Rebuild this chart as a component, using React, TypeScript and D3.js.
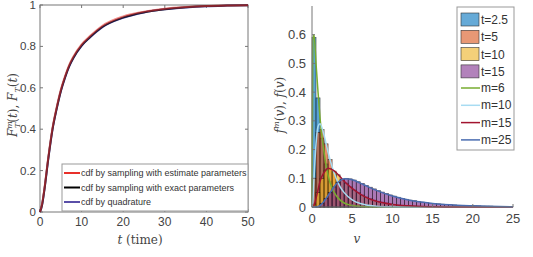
import React from "react";
import * as d3 from "d3";

// left panel: cdf of T
const cdfT = [0, 0.5, 1, 2, 3, 4, 5, 6, 7, 8, 10, 12, 15, 20, 25, 30, 35, 40, 45, 50];
const cdfEstimate = [0, 0.04, 0.105, 0.265, 0.405, 0.505, 0.59, 0.655, 0.71, 0.75, 0.81, 0.85, 0.9, 0.945, 0.968, 0.982, 0.99, 0.995, 0.998, 0.999];
const cdfExact = [0, 0.035, 0.1, 0.26, 0.4, 0.5, 0.585, 0.65, 0.705, 0.745, 0.805, 0.845, 0.895, 0.94, 0.965, 0.98, 0.989, 0.995, 0.998, 0.999];
const cdfQuad = [0, 0.033, 0.098, 0.257, 0.397, 0.497, 0.582, 0.648, 0.702, 0.743, 0.803, 0.843, 0.893, 0.938, 0.964, 0.979, 0.988, 0.994, 0.997, 0.999];
const cdfLegend = [
  "cdf by sampling with estimate parameters",
  "cdf by sampling with exact parameters",
  "cdf by quadrature",
];
const leftYTicks = [0, 0.2, 0.4, 0.6, 0.8, 1];
const leftXTicks = [0, 10, 20, 30, 40, 50];

// right panel: histograms (bin width 0.5 from v = 0) and densities
const binWidth = 0.5;
const histT25 = [0.59, 0.38, 0.24, 0.15, 0.09, 0.055, 0.034, 0.02, 0.012, 0.008, 0.005, 0.003, 0.002];
const histT5 = [0.1, 0.26, 0.27, 0.22, 0.165, 0.12, 0.085, 0.06, 0.042, 0.03, 0.021, 0.015, 0.01, 0.007, 0.005, 0.003, 0.002, 0.001];
const histT10 = [0.01, 0.05, 0.1, 0.128, 0.133, 0.125, 0.112, 0.097, 0.083, 0.07, 0.059, 0.05, 0.042, 0.035, 0.029, 0.024, 0.02, 0.017, 0.014, 0.011, 0.009, 0.007, 0.006, 0.005, 0.004, 0.003, 0.002, 0.002, 0.001, 0.001];
const histT15 = [0, 0.002, 0.012, 0.03, 0.05, 0.07, 0.085, 0.095, 0.1, 0.098, 0.094, 0.088, 0.082, 0.075, 0.069, 0.063, 0.057, 0.052, 0.047, 0.042, 0.038, 0.034, 0.03, 0.027, 0.024, 0.022, 0.019, 0.017, 0.015, 0.013, 0.012, 0.011, 0.01, 0.009, 0.008, 0.007, 0.006, 0.006, 0.005, 0.005, 0.004, 0.004, 0.003, 0.003, 0.003, 0.002, 0.002, 0.002, 0.002, 0.001];

const densV = [0, 0.1, 0.25, 0.5, 0.75, 1, 1.5, 2, 2.5, 3, 3.5, 4, 5, 6, 7, 8, 10, 12, 15, 18, 20, 25];
const densM6 = [0, 0.58, 0.6, 0.5, 0.4, 0.31, 0.19, 0.11, 0.065, 0.04, 0.024, 0.014, 0.005, 0.002, 0.001, 0, 0, 0, 0, 0, 0, 0];
const densM10 = [0, 0.02, 0.1, 0.22, 0.28, 0.29, 0.25, 0.19, 0.14, 0.1, 0.07, 0.05, 0.025, 0.012, 0.006, 0.003, 0.001, 0, 0, 0, 0, 0];
const densM15 = [0, 0, 0.005, 0.03, 0.06, 0.09, 0.12, 0.135, 0.13, 0.12, 0.105, 0.09, 0.065, 0.045, 0.03, 0.02, 0.009, 0.004, 0.001, 0, 0, 0];
const densM25 = [0, 0, 0, 0, 0.002, 0.005, 0.02, 0.04, 0.06, 0.08, 0.092, 0.098, 0.095, 0.083, 0.07, 0.058, 0.038, 0.024, 0.012, 0.006, 0.004, 0.001];

const histSeries = [
  { name: "t=2.5", values: histT25, color: "#0072bd" },
  { name: "t=5", values: histT5, color: "#d95319" },
  { name: "t=10", values: histT10, color: "#edb120" },
  { name: "t=15", values: histT15, color: "#7e2f8e" },
];
const densSeries = [
  { name: "m=6", values: densM6, color: "#77ac30" },
  { name: "m=10", values: densM10, color: "#a8dcf2" },
  { name: "m=15", values: densM15, color: "#a2142f" },
  { name: "m=25", values: densM25, color: "#4a6cb0" },
];
const rightYTicks = [0, 0.1, 0.2, 0.3, 0.4, 0.5, 0.6];
const rightXTicks = [0, 5, 10, 15, 20, 25];

const tickFont = "'Liberation Sans', Arial, sans-serif";
const mathFont = "'DejaVu Serif', 'Liberation Serif', serif";

export default function App() {
  const lx = d3.scaleLinear().domain([0, 50]).range([40, 248]);
  const ly = d3.scaleLinear().domain([0, 1]).range([212, 5]);
  const rx = d3.scaleLinear().domain([0, 25]).range([312, 513]);
  const ry = d3.scaleLinear().domain([0, 0.7]).range([207, 6]);

  const cdfLine = (vals: number[]) =>
    d3.line<number>().x((_, i) => lx(cdfT[i])).y((d) => ly(d)).curve(d3.curveMonotoneX)(vals) || "";
  const densLine = (vals: number[]) =>
    d3.line<number>().x((_, i) => rx(densV[i])).y((d) => ry(d)).curve(d3.curveMonotoneX)(vals) || "";

  // drawn bottom to top so the red shows through like the original
  const cdfSeries = [
    { vals: cdfQuad, color: "#4f4aa0", op: 1 },
    { vals: cdfExact, color: "#000000", op: 0.7 },
    { vals: cdfEstimate, color: "#e8302a", op: 0.55 },
  ];
  const legendColors = ["#e8302a", "#000000", "#5a4fa8"];

  return (
    <svg width={533} height={257} style={{ position: "absolute", left: 0, top: 0, background: "#fff" }}>
      {/* ---------- left panel ---------- */}
      <g>
        <rect x={40} y={5} width={208} height={207} fill="#fff" stroke="#777" strokeWidth={1} />
        {leftYTicks.map((t) => (
          <g key={"ly" + t}>
            <line x1={40} x2={43} y1={ly(t)} y2={ly(t)} stroke="#777" />
            <line x1={248} x2={245} y1={ly(t)} y2={ly(t)} stroke="#777" />
            <text x={36} y={ly(t) + 4} textAnchor="end" fontSize={11.5} fontFamily={tickFont} fill="#444">
              {t}
            </text>
          </g>
        ))}
        {leftXTicks.map((t) => (
          <g key={"lx" + t}>
            <line x1={lx(t)} x2={lx(t)} y1={212} y2={209} stroke="#777" />
            <line x1={lx(t)} x2={lx(t)} y1={5} y2={8} stroke="#777" />
            <text x={lx(t)} y={226} textAnchor="middle" fontSize={12} fontFamily={tickFont} fill="#444">
              {t}
            </text>
          </g>
        ))}
        {cdfSeries.map((s, i) => (
          <path key={"c" + i} d={cdfLine(s.vals)} fill="none" stroke={s.color} strokeWidth={2} strokeOpacity={s.op} />
        ))}
        <text x={140} y={244} textAnchor="middle" fontSize={12} fontFamily={mathFont} fill="#444">
          <tspan fontStyle="italic">t</tspan> (time)
        </text>
        <text transform="translate(17,105) rotate(-90)" textAnchor="middle" fontSize={12} fontFamily={mathFont} fill="#444">
          <tspan fontStyle="italic">F</tspan>
          <tspan fontStyle="italic" fontSize={8} dy={-5}>m</tspan>
          <tspan fontStyle="italic" fontSize={8} dx={-7} dy={8}>T</tspan>
          <tspan dy={-3}>(</tspan>
          <tspan fontStyle="italic">t</tspan>
          <tspan>), </tspan>
          <tspan fontStyle="italic">F</tspan>
          <tspan fontStyle="italic" fontSize={8} dy={3}>T</tspan>
          <tspan dy={-3}>(</tspan>
          <tspan fontStyle="italic">t</tspan>
          <tspan>)</tspan>
        </text>
        {/* legend */}
        <rect x={62} y={164} width={186} height={47} fill="#fff" stroke="#999" strokeWidth={1} />
        {cdfLegend.map((name, i) => (
          <g key={"cl" + i}>
            <line x1={64} x2={80} y1={173 + i * 14.5} y2={173 + i * 14.5} stroke={legendColors[i]} strokeWidth={2} />
            <text x={81} y={176 + i * 14.5} fontSize={9} fontFamily={tickFont} fill="#333">
              {name}
            </text>
          </g>
        ))}
      </g>

      {/* ---------- right panel ---------- */}
      <g>
        {histSeries.map((s) => (
          <g key={s.name}>
            {s.values.map((v, i) => (
              <rect
                key={i}
                x={rx(i * binWidth)}
                y={ry(v)}
                width={rx((i + 1) * binWidth) - rx(i * binWidth)}
                height={ry(0) - ry(v)}
                fill={s.color}
                fillOpacity={0.65}
                stroke="#000"
                strokeOpacity={0.7}
                strokeWidth={0.6}
              />
            ))}
          </g>
        ))}
        {densSeries.map((s) => (
          <path key={s.name} d={densLine(s.values)} fill="none" stroke={s.color} strokeWidth={1.5} />
        ))}
        <line x1={312} x2={312} y1={6} y2={207} stroke="#777" />
        <line x1={312} x2={513} y1={207} y2={207} stroke="#777" />
        {rightYTicks.map((t) => (
          <g key={"ry" + t}>
            <line x1={312} x2={315} y1={ry(t)} y2={ry(t)} stroke="#777" />
            <text x={306} y={ry(t) + 4.5} textAnchor="end" fontSize={13} fontFamily={tickFont} fill="#444">
              {t}
            </text>
          </g>
        ))}
        {rightXTicks.map((t) => (
          <g key={"rx" + t}>
            <line x1={rx(t)} x2={rx(t)} y1={207} y2={204} stroke="#777" />
            <text x={rx(t)} y={223} textAnchor="middle" fontSize={13} fontFamily={tickFont} fill="#444">
              {t}
            </text>
          </g>
        ))}
        <text x={357} y={243} textAnchor="middle" fontSize={12} fontStyle="italic" fontFamily={mathFont} fill="#444">
          v
        </text>
        <text transform="translate(284,105) rotate(-90)" textAnchor="middle" fontSize={12} fontFamily={mathFont} fill="#444">
          <tspan fontStyle="italic">f</tspan>
          <tspan fontStyle="italic" fontSize={8} dy={-5}>m</tspan>
          <tspan dy={5}>(</tspan>
          <tspan fontStyle="italic">v</tspan>
          <tspan>), </tspan>
          <tspan fontStyle="italic">f</tspan>
          <tspan>(</tspan>
          <tspan fontStyle="italic">v</tspan>
          <tspan>)</tspan>
        </text>
        {/* legend */}
        <rect x={457} y={7} width={57} height={143} fill="#fff" stroke="#999" strokeWidth={1} />
        {histSeries.map((s, i) => (
          <g key={"hl" + s.name}>
            <rect x={461} y={13 + i * 17.3} width={18} height={13} fill={s.color} fillOpacity={0.6} stroke="#333" strokeWidth={0.6} />
            <text x={481} y={24 + i * 17.3} fontSize={12} fontFamily={tickFont} fill="#333">
              {s.name}
            </text>
          </g>
        ))}
        {densSeries.map((s, i) => (
          <g key={"dl" + s.name}>
            <line x1={461} x2={480} y1={88 + i * 17.3} y2={88 + i * 17.3} stroke={s.color} strokeWidth={1.5} />
            <text x={481} y={92 + i * 17.3} fontSize={12} fontFamily={tickFont} fill="#333">
              {s.name}
            </text>
          </g>
        ))}
      </g>
    </svg>
  );
}
